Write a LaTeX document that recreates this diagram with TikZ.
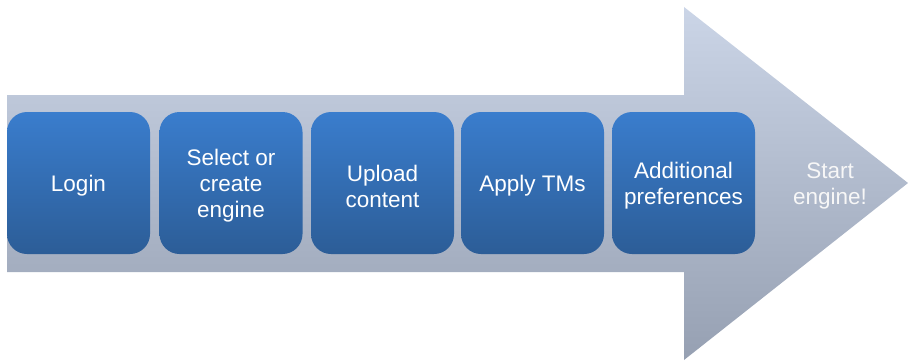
\documentclass[tikz,border=0pt]{standalone}
\usepackage{fontspec}
\setmainfont{Liberation Sans}
\definecolor{arrtop}{RGB}{203,213,231}
\definecolor{arrbot}{RGB}{150,160,178}
\definecolor{boxtop}{RGB}{58,125,205}
\definecolor{boxbot}{RGB}{44,93,151}
\tikzset{
  steptext/.style={text=white, align=center, font=\fontsize{22.5}{26}\selectfont, yshift=-3pt, inner sep=0pt},
  stepbox/.style={rounded corners=20pt, minimum width=143pt, minimum height=142pt,
    top color=boxtop, bottom color=boxbot, draw=none, inner sep=0pt,
    label={[steptext]center:{#1}}},
  lasttext/.style={text=white!94!gray, align=center, font=\fontsize{22.5}{26}\selectfont}
}
\begin{document}
\begin{tikzpicture}[x=1pt,y=-1pt]
\useasboundingbox (0,0) rectangle (909,361);
\shade[top color=arrtop, bottom color=arrbot]
  (7,95) -- (684,95) -- (684,7) -- (908,183) -- (684,360) -- (684,272) -- (7,272) -- cycle;
\node[stepbox={Login}] (s1) at (78.5,183) {};
\node[stepbox={Select or\\create\\engine}] (s2) at (231,183) {};
\node[stepbox={Upload\\content}] (s3) at (382.5,183) {};
\node[stepbox={Apply TMs}] (s4) at (532.5,183) {};
\node[stepbox={Additional\\preferences}] (s5) at (683.5,183) {};
\node[lasttext] (s6) at (830,186) {Start\\engine!};
\end{tikzpicture}
\end{document}
